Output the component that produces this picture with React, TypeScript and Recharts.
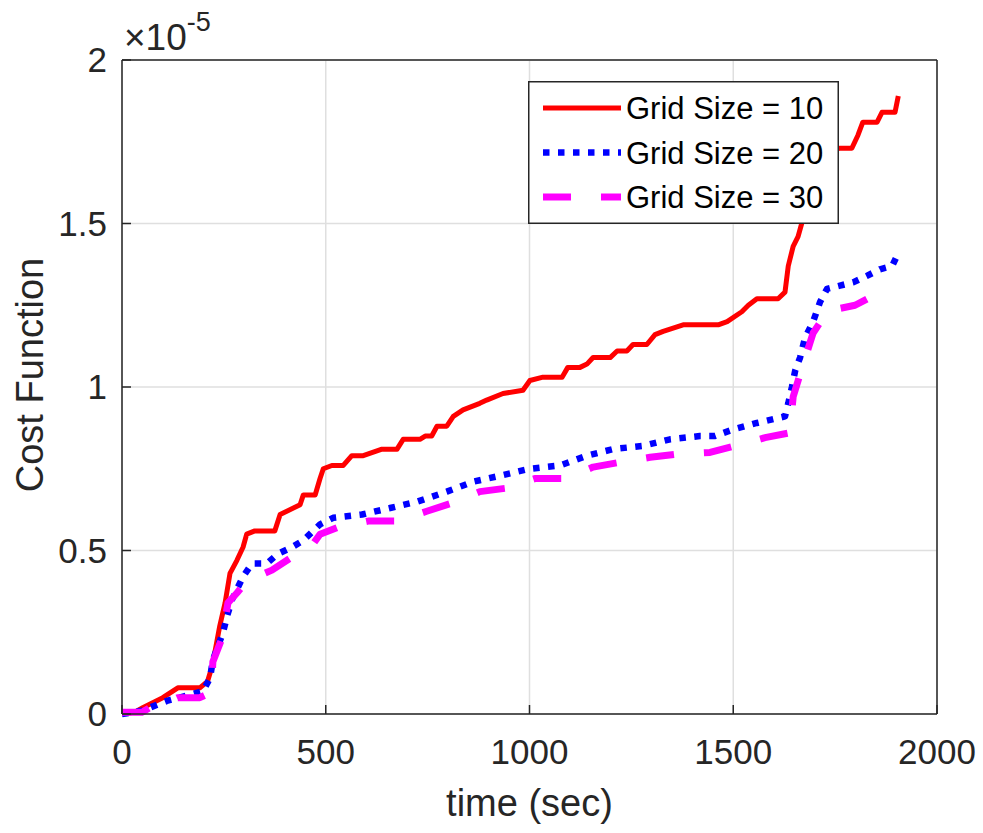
import React from 'react';
import { LineChart, Line, XAxis, YAxis, CartesianGrid, Legend, Label } from 'recharts';

// [time (sec), cost function (x 1e-5)]
const gridSize10: [number, number][] = [
  [0, 0], [30, 0.005], [52, 0.02], [100, 0.05], [137, 0.08], [191, 0.08], [210, 0.1],
  [222, 0.15], [228, 0.19], [240, 0.27], [253, 0.34], [265, 0.43], [282, 0.47], [297, 0.51],
  [306, 0.55], [326, 0.56], [375, 0.56], [388, 0.61], [437, 0.64], [445, 0.67], [474, 0.67],
  [486, 0.72], [494, 0.75], [515, 0.76], [543, 0.76], [564, 0.79], [592, 0.79], [638, 0.81],
  [675, 0.81], [690, 0.84], [731, 0.84], [744, 0.85], [760, 0.85], [773, 0.88], [797, 0.88],
  [813, 0.91], [837, 0.93], [878, 0.95], [895, 0.96], [935, 0.98], [984, 0.99], [1001, 1.02],
  [1033, 1.03], [1080, 1.03], [1094, 1.06], [1124, 1.06], [1141, 1.07], [1156, 1.09],
  [1198, 1.09], [1215, 1.11], [1239, 1.11], [1254, 1.13], [1288, 1.13], [1308, 1.16],
  [1328, 1.17], [1377, 1.19], [1463, 1.19], [1485, 1.2], [1521, 1.23], [1537, 1.25],
  [1558, 1.27], [1610, 1.27], [1627, 1.29], [1635, 1.37], [1647, 1.43], [1659, 1.46],
  [1668, 1.5], [1685, 1.62], [1700, 1.72], [1762, 1.73], [1791, 1.73], [1806, 1.77],
  [1818, 1.81], [1853, 1.81], [1865, 1.84], [1897, 1.84], [1905, 1.89],
];

const gridSize20: [number, number][] = [
  [0, 0], [49, 0.01], [110, 0.04], [199, 0.07], [216, 0.11], [223, 0.165], [248, 0.25],
  [258, 0.3], [270, 0.35], [297, 0.42], [319, 0.46], [355, 0.46], [383, 0.49], [417, 0.51],
  [444, 0.53], [486, 0.58], [518, 0.6], [589, 0.61], [658, 0.63], [726, 0.65], [797, 0.68],
  [861, 0.71], [932, 0.73], [1001, 0.75], [1075, 0.76], [1141, 0.79], [1205, 0.81],
  [1279, 0.82], [1345, 0.84], [1418, 0.85], [1455, 0.85], [1499, 0.87], [1558, 0.89],
  [1627, 0.91], [1635, 0.95], [1644, 1.0], [1652, 1.05], [1664, 1.09], [1676, 1.15],
  [1696, 1.2], [1713, 1.26], [1730, 1.3], [1762, 1.31], [1794, 1.32], [1828, 1.34],
  [1860, 1.36], [1890, 1.37], [1905, 1.41],
];

const gridSize30: [number, number][] = [
  [0, 0.005], [49, 0.005], [69, 0.02], [110, 0.035], [137, 0.05], [191, 0.05], [208, 0.06],
  [221, 0.11], [223, 0.16], [245, 0.23], [260, 0.34], [282, 0.37], [302, 0.4], [330, 0.42],
  [368, 0.44], [417, 0.48], [469, 0.52], [486, 0.55], [528, 0.57], [604, 0.59], [675, 0.59],
  [748, 0.62], [810, 0.645], [878, 0.68], [940, 0.69], [1013, 0.72], [1087, 0.72],
  [1156, 0.755], [1222, 0.77], [1296, 0.785], [1362, 0.795], [1443, 0.8], [1504, 0.82],
  [1578, 0.845], [1639, 0.86], [1647, 0.97], [1669, 1.06], [1696, 1.165], [1720, 1.21],
  [1725, 1.23], [1760, 1.24], [1799, 1.25], [1860, 1.29],
];

const xTicks = [0, 500, 1000, 1500, 2000];
const yTicks = [0, 0.5, 1, 1.5, 2];

const series = [
  { name: 'Grid Size = 10', points: gridSize10, color: '#ff0000', width: 5, dash: undefined },
  { name: 'Grid Size = 20', points: gridSize20, color: '#0000ff', width: 6.5, dash: '6.5 8.5' },
  { name: 'Grid Size = 30', points: gridSize30, color: '#ff00ff', width: 7, dash: '28 30' },
];

const toRows = (pts: [number, number][]) => pts.map(([t, v]) => ({ t, v }));

const FONT = '"Liberation Sans", Arial, Helvetica, sans-serif';
const AX = '#262626';

const LegendBox = () => (
  <svg width={311} height={143} style={{ display: 'block' }}>
    <rect x={0.75} y={0.75} width={309.5} height={141.5} fill="#fff" stroke={AX} strokeWidth={1.5} />
    {series.map((s, i) => {
      const cy = 27 + i * 44.5;
      return (
        <g key={s.name}>
          <line x1={15} x2={93} y1={cy} y2={cy} stroke={s.color} strokeWidth={s.width} strokeDasharray={s.dash} />
          <text x={98} y={cy + 11} fontSize={31} fill="#000" fontFamily={FONT}>{s.name}</text>
        </g>
      );
    })}
  </svg>
);

export default function App() {
  return (
    <div style={{ position: 'absolute', left: 0, top: 0, width: 983, height: 833, background: '#fff', fontFamily: FONT }}>
      <LineChart width={983} height={833} margin={{ top: 59, right: 45, bottom: 118, left: 121 }}>
        <CartesianGrid stroke="#dfdfdf" strokeWidth={1.5} />
        <XAxis
          dataKey="t" type="number" domain={[0, 2000]} ticks={xTicks} interval={0} height={1}
          tickSize={-9} tickMargin={34}
          axisLine={{ stroke: AX, strokeWidth: 1.5 }} tickLine={{ stroke: AX, strokeWidth: 1.5 }}
          tick={{ fill: AX, fontSize: 35, fontFamily: FONT }}
        >
          <Label
            content={({ viewBox }: any) => (
              <text x={viewBox.x + viewBox.width / 2} y={816} textAnchor="middle" fontSize={38} fill={AX} fontFamily={FONT}>
                time (sec)
              </text>
            )}
          />
        </XAxis>
        <XAxis
          xAxisId="top" orientation="top" dataKey="t" type="number" domain={[0, 2000]} ticks={xTicks}
          interval={0} height={1} tick={false} tickSize={-9}
          axisLine={{ stroke: AX, strokeWidth: 1.5 }} tickLine={{ stroke: AX, strokeWidth: 1.5 }}
        >
          <Label
            content={({ viewBox }: any) => (
              <text x={viewBox.x + 2} y={50} fontSize={37} fill={AX} fontFamily={FONT}>
                ×10<tspan dy={-19} fontSize={27}>-5</tspan>
              </text>
            )}
          />
        </XAxis>
        <YAxis
          type="number" domain={[0, 2]} ticks={yTicks} interval={0} width={1}
          tickSize={-9} tickMargin={24}
          axisLine={{ stroke: AX, strokeWidth: 1.5 }} tickLine={{ stroke: AX, strokeWidth: 1.5 }}
          tick={{ fill: AX, fontSize: 35, fontFamily: FONT }}
        >
          <Label
            content={({ viewBox }: any) => {
              const cx = 43;
              const cy = viewBox.y + viewBox.height / 2 - 12;
              return (
                <text x={cx} y={cy} transform={`rotate(-90, ${cx}, ${cy})`} textAnchor="middle" fontSize={38} fill={AX} fontFamily={FONT}>
                  Cost Function
                </text>
              );
            }}
          />
        </YAxis>
        <YAxis
          yAxisId="right" orientation="right" type="number" domain={[0, 2]} ticks={yTicks}
          interval={0} width={1} tick={false} tickSize={-9}
          axisLine={{ stroke: AX, strokeWidth: 1.5 }} tickLine={{ stroke: AX, strokeWidth: 1.5 }}
        />
        {series.map((s) => (
          <Line
            key={s.name}
            name={s.name}
            data={toRows(s.points)}
            dataKey="v"
            type="linear"
            stroke={s.color}
            strokeWidth={s.width}
            strokeDasharray={s.dash}
            strokeLinejoin="round"
            dot={false}
            activeDot={false}
            isAnimationActive={false}
          />
        ))}
        <Legend
          layout="vertical"
          align="center"
          verticalAlign="middle"
          wrapperStyle={{ left: 528, top: 81, width: 311, height: 143 }}
          content={() => <LegendBox />}
        />
      </LineChart>
    </div>
  );
}
